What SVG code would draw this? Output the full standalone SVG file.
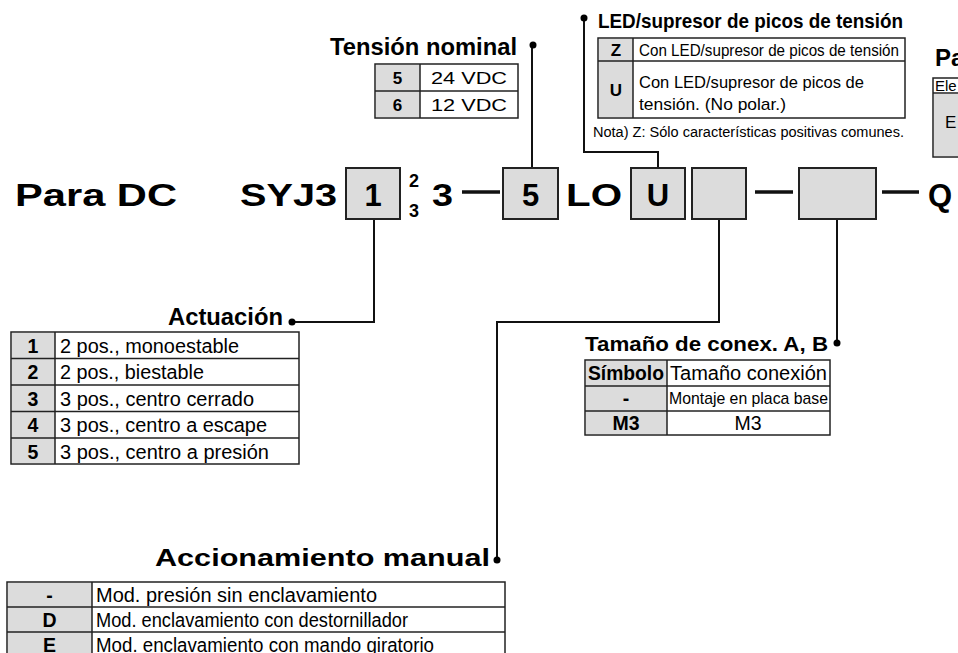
<svg xmlns="http://www.w3.org/2000/svg" width="958" height="653" viewBox="0 0 958 653">
<style>
text{font-family:"Liberation Sans",Arial,sans-serif;fill:#000}
.big{font-size:31px;font-weight:bold}
.hdr{font-size:23px;font-weight:bold}
.b{font-weight:bold}
.t16{font-size:17px}
.t18{font-size:19.5px}
.t14{font-size:15px}
.box{fill:#dcdcdc;stroke:#222;stroke-width:2}
.tb{fill:#fff;stroke:#222;stroke-width:1.5}
.gr{fill:#dcdcdc}
.ln{stroke:#222;stroke-width:1.5;fill:none}
.con{stroke:#111;stroke-width:2;fill:none}
.dash{stroke:#111;stroke-width:3.5}
.dot{fill:#000}
.mid{text-anchor:middle}
</style>
<rect width="958" height="653" fill="#fff"/>

<g id="connectors">
<polyline class="con" points="374,219 374,322 292,322"/>
<polyline class="con" points="532,167 532,45"/>
<polyline class="con" points="658,167 658,152 584,152 584,18"/>
<polyline class="con" points="719,219 719,322 497,322 497,560"/>
<polyline class="con" points="837,219 837,343"/>
<circle class="dot" cx="292" cy="322" r="3.5"/>
<circle class="dot" cx="533" cy="45" r="3.5"/>
<circle class="dot" cx="584" cy="18" r="3.5"/>
<circle class="dot" cx="497" cy="560" r="3.5"/>
<circle class="dot" cx="837" cy="343" r="3.5"/>
</g>

<g id="code">
<text class="big" x="15" y="206" textLength="162" lengthAdjust="spacingAndGlyphs">Para DC</text>
<text class="big" x="240" y="206" textLength="97" lengthAdjust="spacingAndGlyphs">SYJ3</text>
<rect class="box" x="346" y="168" width="54" height="51"/>
<text class="big mid" x="373" y="206">1</text>
<text class="b" x="409" y="187" style="font-size:18px">2</text>
<text class="b" x="409" y="217" style="font-size:18px">3</text>
<text class="big" x="432" y="206" textLength="21" lengthAdjust="spacingAndGlyphs">3</text>
<line class="dash" x1="462" y1="192" x2="500" y2="192"/>
<rect class="box" x="503" y="168" width="55" height="51"/>
<text class="big mid" x="530.5" y="206">5</text>
<text class="big" x="566" y="206" textLength="56" lengthAdjust="spacingAndGlyphs">LO</text>
<rect class="box" x="631" y="168" width="54" height="51"/>
<text class="big mid" x="658" y="206">U</text>
<rect class="box" x="692" y="168" width="54" height="51"/>
<line class="dash" x1="755" y1="192" x2="793" y2="192"/>
<rect class="box" x="799" y="168" width="77" height="51"/>
<line class="dash" x1="882" y1="192" x2="919" y2="192"/>
<text class="big" x="928" y="206">Q</text>
</g>

<g id="tension">
<text class="hdr" x="330" y="55" textLength="187" lengthAdjust="spacingAndGlyphs">Tensión nominal</text>
<rect class="tb" x="375" y="64" width="143" height="54"/>
<rect class="gr" x="376" y="65" width="44" height="52"/>
<line class="ln" x1="375" y1="91" x2="518" y2="91"/>
<line class="ln" x1="420" y1="64" x2="420" y2="118"/>
<text class="t16 b mid" x="397.5" y="84">5</text>
<text class="t16 mid" x="469" y="84" textLength="76" lengthAdjust="spacingAndGlyphs">24 VDC</text>
<text class="t16 b mid" x="397.5" y="111">6</text>
<text class="t16 mid" x="469" y="111" textLength="76" lengthAdjust="spacingAndGlyphs">12 VDC</text>
</g>

<g id="led">
<text class="hdr" x="598" y="28" style="font-size:21px" textLength="305" lengthAdjust="spacingAndGlyphs">LED/supresor de picos de tensión</text>
<rect class="tb" x="598" y="38" width="307" height="80"/>
<rect class="gr" x="599" y="39" width="34" height="78"/>
<line class="ln" x1="598" y1="61" x2="905" y2="61"/>
<line class="ln" x1="633" y1="38" x2="633" y2="118"/>
<text class="t16 b mid" x="616" y="56">Z</text>
<text class="t16" x="639" y="56" textLength="260" lengthAdjust="spacingAndGlyphs">Con LED/supresor de picos de tensión</text>
<text class="t16 b mid" x="616" y="96">U</text>
<text class="t16" x="639" y="88" textLength="225" lengthAdjust="spacingAndGlyphs">Con LED/supresor de picos de</text>
<text class="t16" x="639" y="110" textLength="147" lengthAdjust="spacingAndGlyphs">tensión. (No polar.)</text>
<text x="593" y="137" style="font-size:14px" textLength="311" lengthAdjust="spacingAndGlyphs">Nota) Z: Sólo características positivas comunes.</text>
</g>

<g id="pa">
<text class="hdr" x="935" y="66" style="font-size:24px">Pa</text>
<rect class="tb" x="933" y="78" width="40" height="79"/>
<rect class="gr" x="934" y="94" width="30" height="62"/>
<line class="ln" x1="933" y1="93" x2="958" y2="93"/>
<text class="t14" x="935" y="91">Ele</text>
<text class="t16" x="945" y="128">E</text>
</g>

<g id="actuacion">
<text class="hdr" x="168" y="325" textLength="115" lengthAdjust="spacingAndGlyphs">Actuación</text>
<rect class="tb" x="11" y="332" width="288" height="132"/>
<rect class="gr" x="12" y="333" width="43" height="130"/>
<line class="ln" x1="11" y1="358.5" x2="299" y2="358.5"/>
<line class="ln" x1="11" y1="385" x2="299" y2="385"/>
<line class="ln" x1="11" y1="411.5" x2="299" y2="411.5"/>
<line class="ln" x1="11" y1="438" x2="299" y2="438"/>
<line class="ln" x1="55" y1="332" x2="55" y2="464"/>
<text class="t18 b mid" x="33" y="353">1</text>
<text class="t18" x="60" y="353" textLength="179" lengthAdjust="spacingAndGlyphs">2 pos., monoestable</text>
<text class="t18 b mid" x="33" y="379">2</text>
<text class="t18" x="60" y="379" textLength="144" lengthAdjust="spacingAndGlyphs">2 pos., biestable</text>
<text class="t18 b mid" x="33" y="406">3</text>
<text class="t18" x="60" y="406" textLength="194" lengthAdjust="spacingAndGlyphs">3 pos., centro cerrado</text>
<text class="t18 b mid" x="33" y="432">4</text>
<text class="t18" x="60" y="432" textLength="207" lengthAdjust="spacingAndGlyphs">3 pos., centro a escape</text>
<text class="t18 b mid" x="33" y="459">5</text>
<text class="t18" x="60" y="459" textLength="209" lengthAdjust="spacingAndGlyphs">3 pos., centro a presión</text>
</g>

<g id="tamano">
<text class="hdr" x="585" y="351" style="font-size:21px" textLength="243" lengthAdjust="spacingAndGlyphs">Tamaño de conex. A, B</text>
<rect class="tb" x="585" y="360" width="245" height="75"/>
<rect class="gr" x="586" y="361" width="81" height="73"/>
<line class="ln" x1="585" y1="386" x2="830" y2="386"/>
<line class="ln" x1="585" y1="411" x2="830" y2="411"/>
<line class="ln" x1="667" y1="360" x2="667" y2="435"/>
<text class="t18 b mid" x="626" y="380" textLength="76" lengthAdjust="spacingAndGlyphs">Símbolo</text>
<text class="t18" x="670" y="380" textLength="157" lengthAdjust="spacingAndGlyphs">Tamaño conexión</text>
<text class="t18 b mid" x="626" y="405">-</text>
<text class="t16" x="669" y="404" textLength="159" lengthAdjust="spacingAndGlyphs">Montaje en placa base</text>
<text class="t18 b mid" x="626" y="430">M3</text>
<text class="t18 mid" x="748" y="430">M3</text>
</g>

<g id="accionamiento">
<text class="hdr" x="155" y="566" textLength="335" lengthAdjust="spacingAndGlyphs">Accionamiento manual</text>
<rect class="tb" x="7" y="582" width="498" height="80"/>
<rect class="gr" x="8" y="583" width="84" height="78"/>
<line class="ln" x1="7" y1="607" x2="505" y2="607"/>
<line class="ln" x1="7" y1="632" x2="505" y2="632"/>
<line class="ln" x1="92" y1="582" x2="92" y2="660"/>
<text class="t18 b mid" x="49.5" y="602">-</text>
<text class="t18" x="96" y="602" textLength="281" lengthAdjust="spacingAndGlyphs">Mod. presión sin enclavamiento</text>
<text class="t18 b mid" x="49.5" y="627">D</text>
<text class="t18" x="96" y="627" textLength="312" lengthAdjust="spacingAndGlyphs">Mod. enclavamiento con destornillador</text>
<text class="t18 b mid" x="49.5" y="652">E</text>
<text class="t18" x="96" y="652" textLength="338" lengthAdjust="spacingAndGlyphs">Mod. enclavamiento con mando giratorio</text>
</g>
</svg>
